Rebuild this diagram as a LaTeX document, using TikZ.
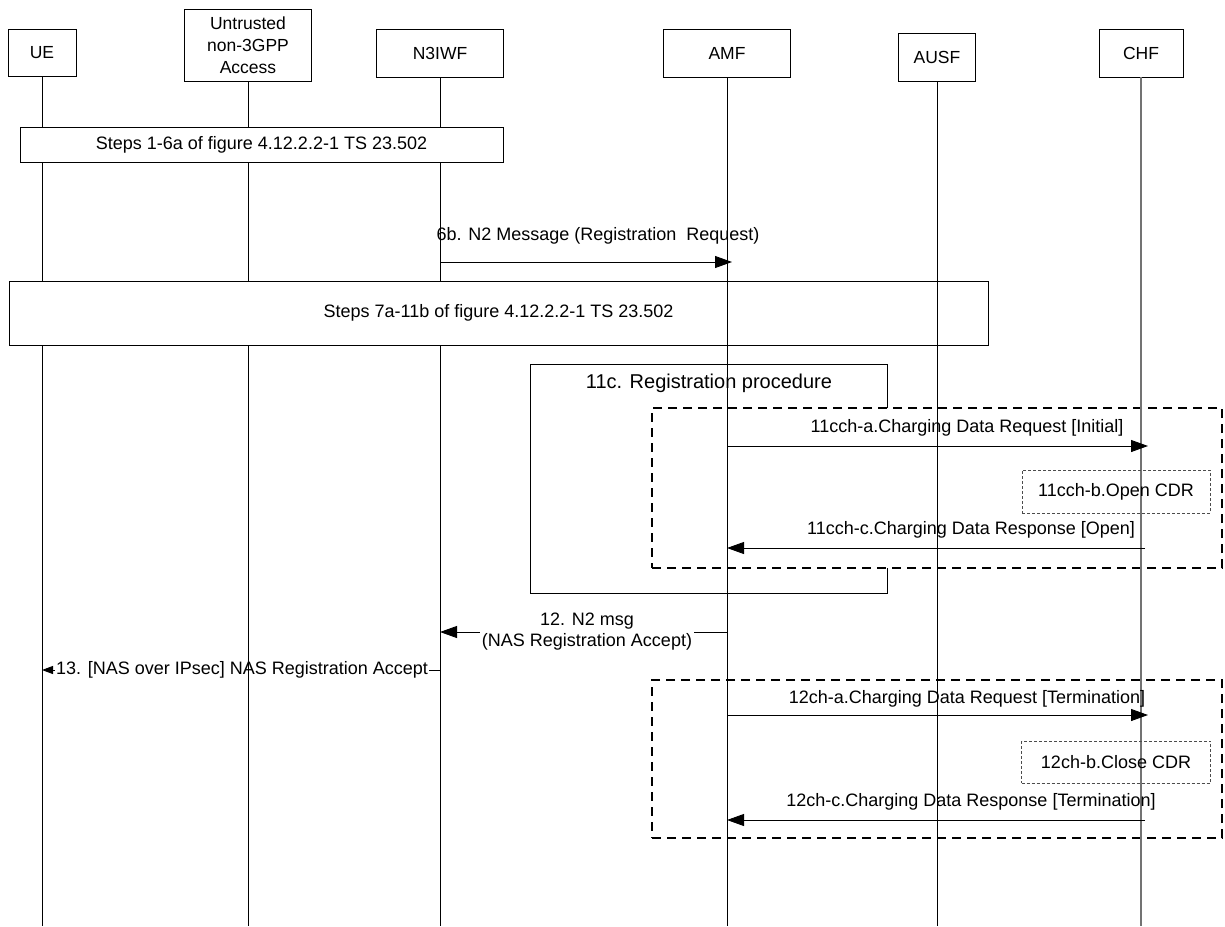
\documentclass[tikz,border=0pt]{standalone}
\usepackage{fontspec}
\setmainfont{Liberation Sans}
\usetikzlibrary{arrows.meta}
\begin{document}
\begin{tikzpicture}[x=1pt,y=-1pt,
  ent/.style={draw, line width=0.9pt, fill=white, inner sep=0pt, font=\fontsize{17.5}{22}\selectfont, align=center},
  life/.style={line width=0.9pt},
  stepsbox/.style={draw, line width=0.9pt, fill=white, inner sep=0pt, font=\fontsize{18}{22}\selectfont},
  lbl/.style={font=\fontsize{18}{21}\selectfont, inner sep=1pt, align=center},
  msg/.style={line width=0.9pt, -{Triangle[length=17pt,width=12pt]}},
  msgsmall/.style={line width=0.9pt, -{Triangle[length=11pt,width=8pt]}},
  chbox/.style={draw, line width=1.4pt, dash pattern=on 9pt off 6pt, fill=white},
  cdrbox/.style={draw=black!70, line width=0.7pt, dash pattern=on 3pt off 2pt, font=\fontsize{18}{22}\selectfont, inner sep=0pt},
]
\useasboundingbox (0,0) rectangle (1225,926);

% header boxes
\node[ent, minimum width=68, minimum height=47] (ue) at (42,52.5) {UE};
\node[ent, minimum width=127, minimum height=72] (un) at (248,45) {Untrusted\\non-3GPP\\Access};
\node[ent, minimum width=127, minimum height=48] (n3) at (440,53) {N3IWF};
\node[ent, minimum width=127, minimum height=48] (amf) at (727,53) {AMF};
\node[ent, minimum width=77, minimum height=48] (ausf) at (937,57) {AUSF};
\node[ent, minimum width=84, minimum height=48] (chf) at (1141,53) {CHF};

% row coordinates
\coordinate (r6b) at (0,262);
\coordinate (r11a) at (0,446);
\coordinate (r11c) at (0,548);
\coordinate (r12) at (0,632);
\coordinate (r13) at (0,670);
\coordinate (r12a) at (0,715);
\coordinate (r12c) at (0,820);
\coordinate (bot) at (0,926);

% message 13 (label hides the line, lifelines drawn over it)
\draw[msgsmall] (n3 |- r13) -- (ue |- r13);
\node[lbl, fill=white] (l13) at (242,670) {13. [NAS over IPsec] NAS Registration Accept};

% lifelines of the left entities
\draw[life] (ue.south) -- (ue |- bot);
\draw[life] (un.south) -- (un |- bot);
\draw[life] (n3.south) -- (n3 |- bot);

% steps boxes
\node[stepsbox, minimum width=483, minimum height=35] (s16) at (261.5,144.5) {Steps 1-6a of figure 4.12.2.2-1 TS 23.502};
\node[stepsbox, minimum width=979, minimum height=64] (s711) at (498.5,313) {Steps 7a-11b of figure 4.12.2.2-1 TS 23.502};

% message 6b
\node[lbl] (l6b) at (598,236) {6b. N2 Message (Registration\ \ Request)};
\draw[msg, shorten >=-5pt] (n3 |- r6b) -- (amf |- r6b);

% 11c box
\node[draw, line width=0.9pt, fill=white, minimum width=357, minimum height=229, inner sep=0pt] (b11c) at (708.5,478.5) {};
\node[font=\fontsize{20}{24}\selectfont, inner sep=0pt] (l11c) at (709,383) {11c. Registration procedure};

% charging boxes
\node[chbox, minimum width=570, minimum height=160, inner sep=0pt] (ch1) at (937,488) {};
\node[chbox, minimum width=570, minimum height=158, inner sep=0pt] (ch2) at (937,759) {};

% right lifelines
\draw[life] (amf.south) -- (amf |- bot);
\draw[life] (ausf.south) -- (ausf |- bot);
\draw[line width=1.6pt, black!55] (chf.south) -- (chf |- bot);

% charging messages
\node[lbl] (l11a) at (967,428) {11cch-a.Charging Data Request [Initial]};
\draw[msg, shorten >=-7pt] (amf |- r11a) -- (chf |- r11a);
\node[cdrbox, minimum width=188, minimum height=43] (cdr1) at (1116,491.5) {11cch-b.Open CDR};
\node[lbl] (l11c2) at (971,530) {11cch-c.Charging Data Response [Open]};
\draw[msg, shorten <=-4pt] (chf |- r11c) -- (amf |- r11c);

% message 12
\draw[msg] (amf |- r12) -- (n3 |- r12);
\node[lbl, fill=white, inner sep=2pt] (l12) at (587,632) {12. N2 msg\\(NAS Registration Accept)};

\node[lbl] (l12a) at (967,699) {12ch-a.Charging Data Request [Termination]};
\draw[msg, shorten >=-7pt] (amf |- r12a) -- (chf |- r12a);
\node[cdrbox, minimum width=189, minimum height=42] (cdr2) at (1116,762) {12ch-b.Close CDR};
\node[lbl] (l12c) at (971,802) {12ch-c.Charging Data Response [Termination]};
\draw[msg, shorten <=-4pt] (chf |- r12c) -- (amf |- r12c);
\end{tikzpicture}
\end{document}
